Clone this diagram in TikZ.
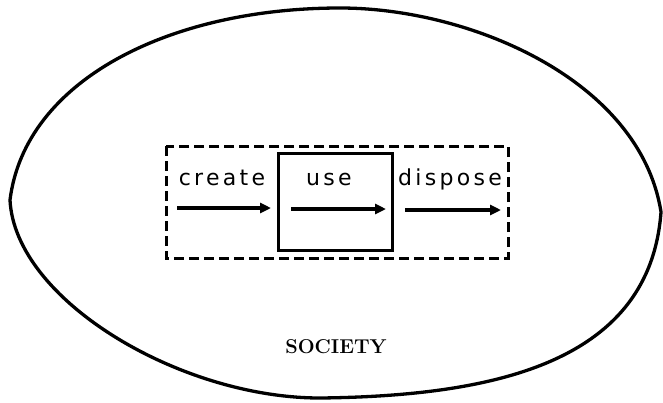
\documentclass[tikz,border=0pt]{standalone}
\usepackage{fontspec}
\newfontfamily\hand[LetterSpace=15]{DejaVu Sans}
\usetikzlibrary{arrows.meta}
\begin{document}
\begin{tikzpicture}[x=1pt,y=-1pt,
  outline/.style={line width=3.3pt, line join=miter},
  dashbox/.style={line width=3pt, dash pattern=on 10pt off 5pt},
  usebox/.style={line width=3pt},
  flow/.style={line width=3.3pt,-{Triangle[length=11pt,width=10pt]}},
  lbl/.style={font=\hand\fontsize{22}{22}\selectfont, inner sep=0pt, anchor=base},
  soc/.style={font=\bfseries\fontsize{20}{20}\selectfont, inner sep=0pt}]
\useasboundingbox (0,0) rectangle (663,402);
% society outline
\draw[outline] (10,200) .. controls (25,80) and (170,8) .. (340,8)
  .. controls (470,8) and (640,80) .. (661,212)
  .. controls (650,360) and (500,396) .. (320,398)
  .. controls (180,398) and (15,300) .. (10,200) -- cycle;
% dashed box
\draw[dashbox] (166,146) rectangle (508,258);
% use box
\node[usebox, draw, minimum width=114pt, minimum height=97pt, inner sep=0pt] (usebx) at (335,201.5) {};
% labels
\node[lbl] (create) at (222,185) {create};
\node[lbl] (use) at (329,185) {use};
\node[lbl] (dispose) at (450,185) {dispose};
\node[soc] (society) at (336,347) {SOCIETY};
% arrows
\coordinate (c1) at (177,208); \coordinate (c2) at (271,208);
\coordinate (u1) at (291,209); \coordinate (u2) at (386,209);
\coordinate (d1) at (405,210); \coordinate (d2) at (501,210);
\draw[flow] (c1) -- (c2);
\draw[flow] (u1) -- (u2);
\draw[flow] (d1) -- (d2);
\end{tikzpicture}
\end{document}
